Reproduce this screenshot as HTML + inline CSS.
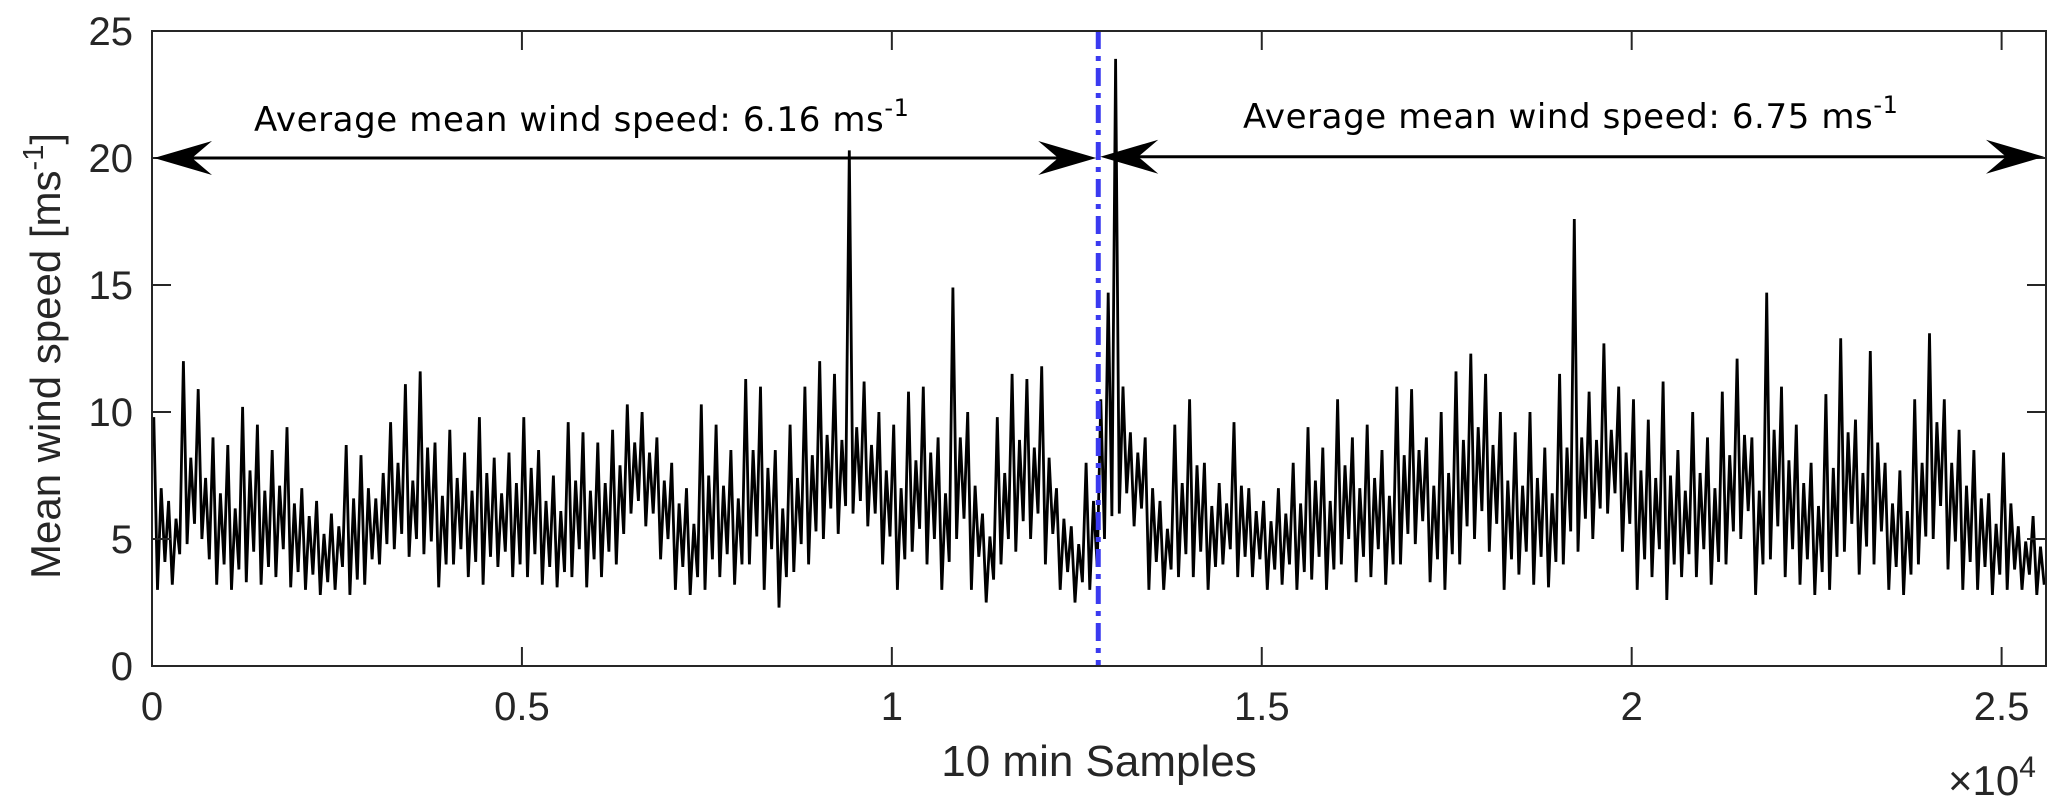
<!DOCTYPE html>
<html><head><meta charset="utf-8"><style>
html,body{margin:0;padding:0;background:#fff;}
svg{display:block;}
text{font-family:"Liberation Sans",Arial,sans-serif;fill:#262626;}
.ann{font-family:"DejaVu Sans",Verdana,sans-serif;fill:#000;}
</style></head><body>
<svg id="chart" width="2067" height="809" viewBox="0 0 2067 809" xmlns="http://www.w3.org/2000/svg">
<rect x="0" y="0" width="2067" height="809" fill="#fff"/>
<g id="plot"></g>
</svg>
<script>
const xTicks=[0,5000,10000,15000,20000,25000];
const xTickLabels=["0","0.5","1","1.5","2","2.5"];
const yTicks=[0,5,10,15,20,25];
const yTickLabels=["0","5","10","15","20","25"];
const sampleStep=50;
const speeds=[
9.8,3,7,4.1, 6.5,3.2,5.8,4.4, 12,4.8,8.2,5.6, 10.9,5,7.4,4.2, 9,3.2,6.8,4, 8.7,3,6.2,3.8, 10.2,3.3,7.7,4.5, 9.5,3.2,6.9,3.9, 8.5,3.5,7.1,4.6, 9.4,3.1,6.4,3.7,
7,3,5.9,3.6, 6.5,2.8,5.2,3.3, 6,3,5.5,3.9, 8.7,2.8,6.6,3.4, 8.3,3.2,7,4.2, 6.6,4,7.6,4.8, 9.6,4.6,8,5.2, 11.1,4.3,7.3,5, 11.6,4.4,8.6,4.9, 8.8,3.1,6.7,4,
9.3,4,7.4,4.6, 8.4,3.5,6.9,4.1, 9.8,3.2,7.6,4.3, 8.2,3.9,6.8,4.5, 8.4,3.5,7.2,4, 9.8,3.5,7.8,4.4, 8.5,3.2,6.5,3.9, 7.5,3.1,6.1,3.7, 9.6,3.5,7.3,4.6, 9.2,3.1,6.9,4.2,
8.8,3.5,7.2,4.5, 9.3,4,7.9,5.2, 10.3,6,8.8,6.5, 10,5.5,8.4,6, 9,4.2,7.3,5, 8,3,6.4,3.9, 7,2.8,5.6,3.5, 10.3,3,7.5,4.2, 9.5,3.5,7.1,4.4, 8.5,3.2,6.6,4,
11.3,4,8.5,5.1, 11,3,7.8,4.6, 8.5,2.3,6.2,3.5, 9.5,3.7,7.4,4.8, 11,4,8.3,5.3, 12,5,9.1,6.2, 11.5,5.2,8.9,6.3, 20.3,6,9.4,6.5, 11.2,5.5,8.7,6, 10,4,7.7,5.1,
9.5,3,7,4.2, 10.8,4.5,8.1,5.4, 11,4,8.4,5, 9,3,6.8,4.1, 14.9,5,9,5.8, 10,3,7.1,4.3, 6,2.5,5.1,3.4, 9.8,4,7.6,5, 11.5,4.5,8.9,5.7, 11.3,5,8.6,6,
11.8,4,8.2,5.2, 7,3,5.8,3.7, 5.5,2.5,4.8,3.3, 8,3,6.5,3.9, 10.5,5,14.7,5.9, 23.9,6,11,6.8, 9.2,5.5,8.4,6.2, 9,3,7,4.1, 6.5,3,5.4,3.8, 9.5,3.5,7.2,4.4,
10.5,3.5,7.9,4.5, 8,3,6.3,3.9, 7.2,4,6.4,4.6, 9.6,3.5,7.1,4.3, 7,3.5,6.1,4.2, 6.5,3,5.7,3.8, 7,3.2,6,4, 8,3,6.4,3.7, 9.4,3.4,7.3,4.3, 8.6,3,6.5,3.8,
10.5,4,7.9,5, 9,3.3,7,4.3, 9.5,3.5,7.4,4.6, 8.5,3.2,6.7,4, 11,4,8.3,5.2, 10.9,4.8,8.5,5.7, 9,3.3,7.1,4.2, 10,3,7.6,4.4, 11.6,4,8.9,5.5, 12.3,5,9.4,6.1,
11.5,4.5,8.7,5.6, 10,3,7.3,4.2, 9.2,3.6,7.1,4.5, 10,3.2,7.4,4.3, 8.6,3.1,6.8,4.1, 11.5,4,8.6,5.3, 17.6,4.5,9,5.8, 10.8,5,8.9,6.2, 12.7,6,9.3,6.8, 11,4.5,8.4,5.6,
10.5,3,7.7,4.2, 9.7,3.5,7.4,4.6, 11.2,2.6,7.5,4, 8.5,3.5,6.9,4.4, 10,3.5,7.6,4.6, 9,3.2,7,4.1, 10.8,4,8.3,5.3, 12.1,5,9.1,6.1, 9,2.8,6.9,4, 14.7,4.2,9.3,5.5,
11,3.5,8.1,4.6, 9.5,3.2,7.2,4.2, 8,2.8,6.3,3.7, 10.7,3,7.8,4.3, 12.9,4.5,9.2,5.6, 9.7,3.6,7.6,4.7, 12.4,4,8.8,5.3, 8,3,6.4,3.9, 7.7,2.8,6.1,3.6, 10.5,4,8,5.1,
13.1,5,9.6,6.3, 10.5,3.8,8,4.9, 9.3,3,7.1,4.1, 8.5,3,6.6,3.9, 6.8,2.8,5.6,3.6, 8.4,3,6.4,3.8, 5.5,3,4.9,3.6, 5.9,2.8,4.7,3.2
];
const splitSample=[12790];
const arrowLevels=[20,20.05];
const annotations=["Average mean wind speed: 6.16 ms","Average mean wind speed: 6.75 ms"];

const X0=152,X1=2046,Y0=666,Y1=31,XMAX=25600,YMAX=25;
const NS="http://www.w3.org/2000/svg";
const xs=v=>X0+v/XMAX*(X1-X0);
const ys=v=>Y0-v/YMAX*(Y0-Y1);
const g=document.getElementById('plot');
function mk(tag,attrs){const e=document.createElementNS(NS,tag);for(const k in attrs)e.setAttribute(k,attrs[k]);g.appendChild(e);return e;}

let d="";
speeds.forEach((v,i)=>{d+=(i?"L":"M")+xs(i*sampleStep+25).toFixed(1)+","+ys(v).toFixed(1);});
const line=mk('path',{d:d,fill:"none",stroke:"#000","stroke-width":"2.8","stroke-linejoin":"miter"});



const bx=xs(splitSample[0]);
const split=mk('line',{x1:bx,y1:Y1,x2:bx,y2:Y0,stroke:"#3a3af0","stroke-width":"5","stroke-dasharray":"18 7 5 7"});



const box=mk('rect',{x:X0,y:Y1,width:X1-X0,height:Y0-Y1,fill:"none",stroke:"#262626","stroke-width":"2"});



xTicks.forEach((t,i)=>{
 const x=xs(t);
 const a=mk('line',{x1:x,y1:Y0,x2:x,y2:Y0-19,stroke:"#262626","stroke-width":"2"});
 
 
 const b=mk('line',{x1:x,y1:Y1,x2:x,y2:Y1+19,stroke:"#262626","stroke-width":"2"});
 
 
 const l=mk('text',{x:x,y:720,"text-anchor":"middle","font-size":"40"});
 l.textContent=xTickLabels[i];
 
 
});
yTicks.forEach((t,i)=>{
 const y=ys(t);
 const a=mk('line',{x1:X0,y1:y,x2:X0+19,y2:y,stroke:"#262626","stroke-width":"2"});
 
 
 const b=mk('line',{x1:X1,y1:y,x2:X1-19,y2:y,stroke:"#262626","stroke-width":"2"});
 
 
 const l=mk('text',{x:133,y:y+14,"text-anchor":"end","font-size":"40"});
 l.textContent=yTickLabels[i];
 
 
});

function head(tx,ty,dir){
 const p=`M${tx},${ty} L${tx-dir*58},${ty-17} L${tx-dir*38},${ty} L${tx-dir*58},${ty+17} Z`;
 return mk('path',{d:p,fill:"#000"});
}
const ya=ys(arrowLevels[0]), yb=ys(arrowLevels[1]);
const a1=mk('line',{x1:X0+20,y1:ya,x2:bx-20,y2:ya,stroke:"#000","stroke-width":"3"});


let h=head(X0+2,ya,-1);
h=head(bx-2,ya,1);
const a2=mk('line',{x1:bx+20,y1:yb,x2:X1-20,y2:yb,stroke:"#000","stroke-width":"3"});


h=head(bx+2,yb,-1);
h=head(X1-2,yb,1);

function ann(x,y,txt,name){
 const t=mk('text',{x:x,y:y,"font-size":"34",class:"ann","letter-spacing":"0.6"});
 t.textContent=txt;
 const s=document.createElementNS(NS,'tspan');
 s.setAttribute('dy','-15');s.setAttribute('font-size','24');s.textContent='-1';
 t.appendChild(s);
 
 
}
ann(254,131,annotations[0],'left-average-label');
ann(1243,128,annotations[1],'right-average-label');

const xt=mk('text',{x:1099,y:776,"text-anchor":"middle","font-size":"44"});
xt.textContent="10 min Samples";


const ex=mk('text',{x:1948,y:795,"font-size":"42"});
ex.innerHTML='×10<tspan dy="-18" font-size="30">4</tspan>';


const yt=mk('text',{x:0,y:0,"text-anchor":"middle","font-size":"42",transform:"translate(60,356) rotate(-90)"});
yt.innerHTML='Mean wind speed [ms<tspan dy="-17" font-size="29">-1</tspan><tspan dy="17">]</tspan>';


</script>
</body></html>
